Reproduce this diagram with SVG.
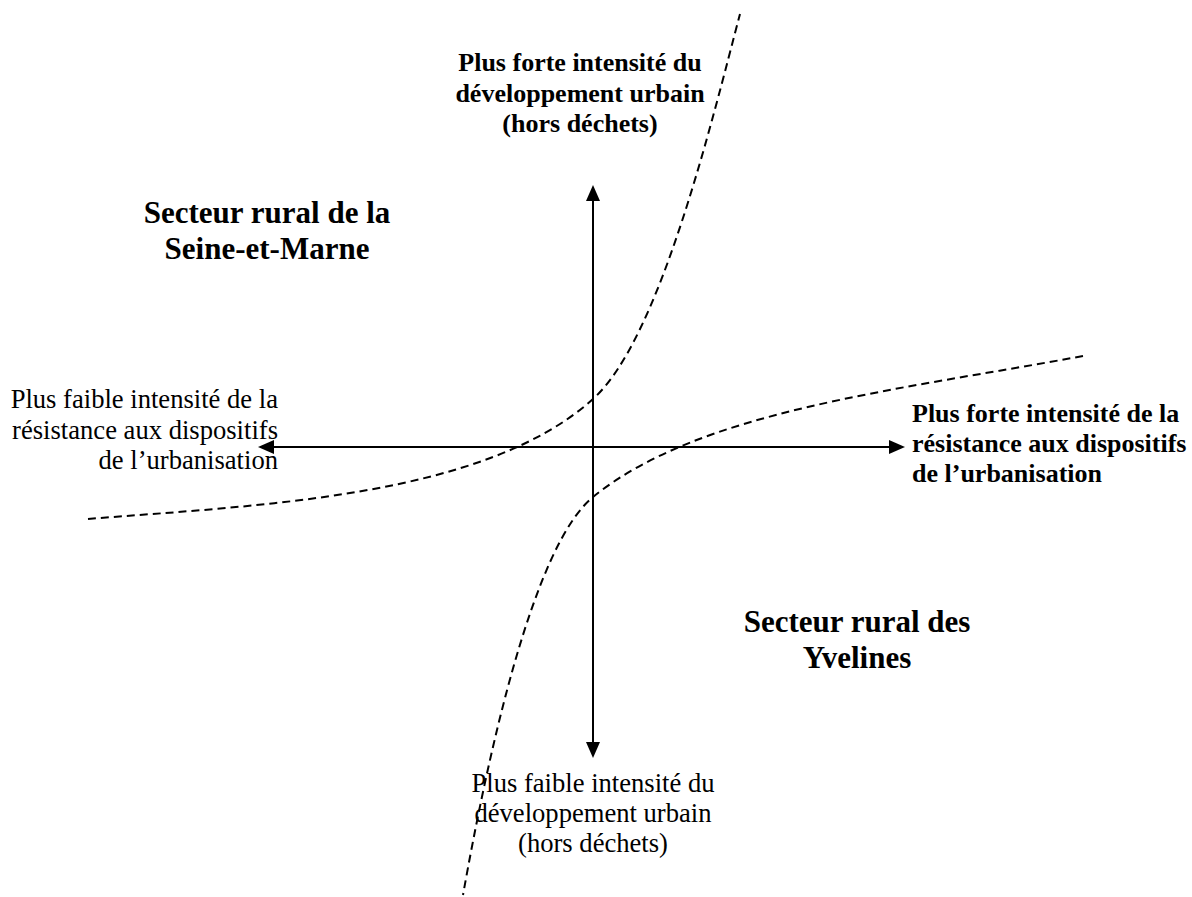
<svg xmlns="http://www.w3.org/2000/svg" width="1192" height="897" viewBox="0 0 1192 897">
<style>
.t{font-family:"Liberation Serif","Times New Roman",serif;fill:#000}
.r{font-size:26.6px}
.b{font-size:26px;font-weight:bold}
.h{font-size:31px;font-weight:bold}
.axis{stroke:#000;stroke-width:2;fill:none}
.dash{stroke:#000;stroke-width:2;fill:none;stroke-dasharray:8 5}
</style>
<defs>
<marker id="ah" markerUnits="userSpaceOnUse" markerWidth="16" markerHeight="14" refX="4" refY="7" orient="auto-start-reverse">
<path d="M0,0 L16,7 L0,14 z" fill="#000"/>
</marker>
</defs>
<rect width="1192" height="897" fill="#fff"/>
<g id="connectors">
<line id="axis-h" class="axis" x1="270" y1="447" x2="893" y2="447" marker-start="url(#ah)" marker-end="url(#ah)"/>
<line id="axis-v" class="axis" x1="593" y1="197" x2="593" y2="746" marker-start="url(#ah)" marker-end="url(#ah)"/>
<path id="curve-1" class="dash" d="M88,519 C258,505 483,498 593,399 C660,339 712,120 740,14"/>
<path id="curve-2" class="dash" d="M1083,356 C900,390 700,410 593,497 C533,546 488,755 463,895"/>
</g>
<g id="label-top">
<text class="t b" text-anchor="middle" x="580" y="71">Plus forte intensité du</text>
<text class="t b" text-anchor="middle" x="580" y="102">développement urbain</text>
<text class="t b" text-anchor="middle" x="580" y="132">(hors déchets)</text>
</g>
<g id="label-bottom">
<text class="t r" text-anchor="middle" x="593" y="792">Plus faible intensité du</text>
<text class="t r" text-anchor="middle" x="593" y="822">développement urbain</text>
<text class="t r" text-anchor="middle" x="593" y="852">(hors déchets)</text>
</g>
<g id="label-left">
<text class="t r" text-anchor="end" x="278" y="408">Plus faible intensité de la</text>
<text class="t r" text-anchor="end" x="278" y="439">résistance aux dispositifs</text>
<text class="t r" text-anchor="end" x="278" y="469">de l’urbanisation</text>
</g>
<g id="label-right">
<text class="t b" x="912" y="422">Plus forte intensité de la</text>
<text class="t b" x="912" y="452">résistance aux dispositifs</text>
<text class="t b" x="912" y="482">de l’urbanisation</text>
</g>
<g id="sector-seine-et-marne">
<text class="t h" text-anchor="middle" x="267" y="223">Secteur rural de la</text>
<text class="t h" text-anchor="middle" x="267" y="259">Seine-et-Marne</text>
</g>
<g id="sector-yvelines">
<text class="t h" text-anchor="middle" x="857" y="632">Secteur rural des</text>
<text class="t h" text-anchor="middle" x="857" y="668">Yvelines</text>
</g>
</svg>
